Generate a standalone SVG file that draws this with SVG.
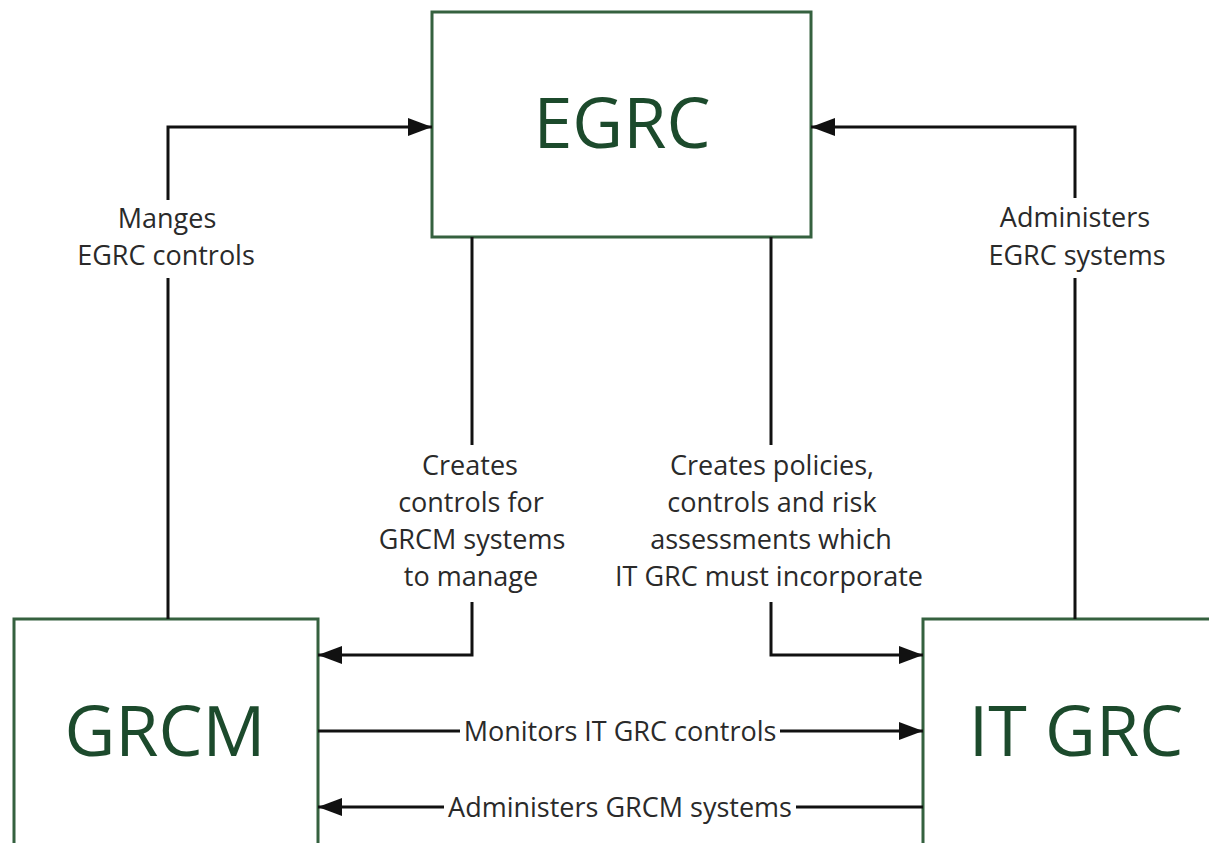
<svg xmlns="http://www.w3.org/2000/svg" width="1209" height="843" viewBox="0 0 1209 843">
  <style>
    .box { fill: #ffffff; stroke: #35613f; stroke-width: 3; }
    .title { font-family: "Open Sans", "Noto Sans", sans-serif; font-size: 70px; fill: #1c4a2c; text-anchor: middle; }
    .wire { fill: none; stroke: #111111; stroke-width: 3; }
    .arrow { fill: none; stroke: #111111; stroke-width: 3; marker-end: url(#head); }
    .label { font-family: "Open Sans", "Noto Sans", sans-serif; font-size: 27px; fill: #2a2a2a; text-anchor: middle; }
  </style>
  <defs>
    <marker id="head" markerUnits="userSpaceOnUse" markerWidth="24" markerHeight="18" refX="24" refY="9" orient="auto">
      <path d="M0,0 L24,9 L0,18 z" fill="#111111"/>
    </marker>
  </defs>
  <rect width="1209" height="843" fill="#ffffff"/>

  <g id="egrc">
    <rect class="box" x="432" y="12" width="379" height="225"/>
    <text class="title" x="622" y="148">EGRC</text>
  </g>
  <g id="grcm">
    <rect class="box" x="14" y="619" width="304" height="260"/>
    <text class="title" x="165" y="756">GRCM</text>
  </g>
  <g id="itgrc">
    <rect class="box" x="923" y="619" width="300" height="260"/>
    <text class="title" x="1076" y="756">IT GRC</text>
  </g>

  <g id="connectors">
    <!-- GRCM manages EGRC controls -->
    <path class="wire" d="M168,619 V278"/>
    <path class="arrow" d="M168,200 V127 H432"/>
    <text class="label" x="167" y="228">Manges</text>
    <text class="label" x="166" y="265">EGRC controls</text>

    <!-- IT GRC administers EGRC systems -->
    <path class="wire" d="M1075,619 V278"/>
    <path class="arrow" d="M1075,198 V127 H811"/>
    <text class="label" x="1075" y="227">Administers</text>
    <text class="label" x="1077" y="265">EGRC systems</text>

    <!-- EGRC creates controls for GRCM -->
    <path class="wire" d="M472,237 V445"/>
    <path class="arrow" d="M472,602 V655 H318"/>
    <text class="label" x="470" y="475">Creates</text>
    <text class="label" x="471" y="512">controls for</text>
    <text class="label" x="472" y="549">GRCM systems</text>
    <text class="label" x="471" y="586">to manage</text>

    <!-- EGRC creates policies for IT GRC -->
    <path class="wire" d="M771,237 V445"/>
    <path class="arrow" d="M771,602 V655 H923"/>
    <text class="label" x="772" y="475">Creates policies,</text>
    <text class="label" x="772" y="512">controls and risk</text>
    <text class="label" x="771" y="549">assessments which</text>
    <text class="label" x="769" y="586">IT GRC must incorporate</text>

    <!-- GRCM monitors IT GRC controls -->
    <path class="wire" d="M318,731 H460"/>
    <path class="arrow" d="M780,731 H923"/>
    <text class="label" x="620" y="741">Monitors IT GRC controls</text>

    <!-- IT GRC administers GRCM systems -->
    <path class="wire" d="M923,807 H796"/>
    <path class="arrow" d="M444,807 H318"/>
    <text class="label" x="620" y="817">Administers GRCM systems</text>
  </g>
</svg>
